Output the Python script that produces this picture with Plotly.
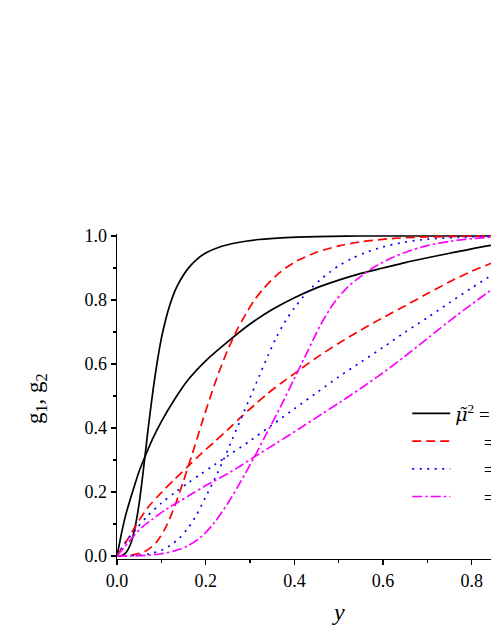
import plotly.graph_objects as go

# ---- data ----
black_g1_x = [0, 0.01, 0.02, 0.03, 0.04, 0.05, 0.06, 0.07, 0.08, 0.09, 0.10, 0.11, 0.12, 0.13, 0.14, 0.16, 0.18, 0.20, 0.23, 0.27, 0.32, 0.38, 0.45, 0.55, 0.85]
black_g1_y = [0, 0.001, 0.01, 0.035, 0.085, 0.165, 0.275, 0.395, 0.505, 0.60, 0.68, 0.74, 0.788, 0.826, 0.855, 0.898, 0.927, 0.947, 0.965, 0.979, 0.989, 0.995, 0.998, 1.0, 1.0]

black_g2_x = [0, 0.005, 0.01, 0.02, 0.035, 0.05, 0.06, 0.08, 0.10, 0.13, 0.16, 0.20, 0.25, 0.30, 0.35, 0.40, 0.45, 0.50, 0.55, 0.60, 0.65, 0.70, 0.75, 0.80, 0.85]
black_g2_y = [0, 0.035, 0.07, 0.13, 0.20, 0.265, 0.30, 0.365, 0.42, 0.49, 0.55, 0.61, 0.67, 0.725, 0.77, 0.807, 0.838, 0.862, 0.883, 0.90, 0.917, 0.932, 0.946, 0.96, 0.972]

red_g1_x = [0, 0.03, 0.05, 0.07, 0.09, 0.11, 0.13, 0.15, 0.17, 0.19, 0.21, 0.23, 0.25, 0.27, 0.29, 0.31, 0.33, 0.36, 0.40, 0.45, 0.50, 0.55, 0.62, 0.70, 0.85]
red_g1_y = [0, 0.002, 0.008, 0.02, 0.045, 0.09, 0.155, 0.235, 0.32, 0.41, 0.495, 0.575, 0.645, 0.705, 0.755, 0.80, 0.835, 0.878, 0.918, 0.949, 0.969, 0.982, 0.992, 0.997, 1.0]

red_g2_x = [0, 0.005, 0.02, 0.04, 0.07, 0.10, 0.13, 0.16, 0.19, 0.22, 0.25, 0.28, 0.31, 0.34, 0.37, 0.40, 0.45, 0.50, 0.55, 0.60, 0.65, 0.70, 0.75, 0.80, 0.85]
red_g2_y = [0, 0.012, 0.043, 0.09, 0.152, 0.198, 0.24, 0.28, 0.32, 0.357, 0.395, 0.435, 0.472, 0.508, 0.54, 0.57, 0.62, 0.665, 0.706, 0.745, 0.782, 0.82, 0.857, 0.89, 0.918]

blue_g1_x = [0, 0.04, 0.07, 0.10, 0.12, 0.14, 0.16, 0.18, 0.20, 0.22, 0.24, 0.26, 0.28, 0.30, 0.32, 0.34, 0.36, 0.38, 0.40, 0.42, 0.44, 0.46, 0.48, 0.50, 0.53, 0.56, 0.60, 0.65, 0.70, 0.77, 0.85]
blue_g1_y = [0, 0.002, 0.006, 0.018, 0.033, 0.055, 0.087, 0.13, 0.185, 0.24, 0.30, 0.365, 0.43, 0.495, 0.56, 0.625, 0.685, 0.735, 0.775, 0.81, 0.84, 0.865, 0.887, 0.907, 0.93, 0.948, 0.966, 0.981, 0.99, 0.996, 0.999]

blue_g2_x = [0, 0.02, 0.045, 0.07, 0.10, 0.13, 0.16, 0.19, 0.22, 0.25, 0.30, 0.35, 0.40, 0.45, 0.50, 0.55, 0.60, 0.65, 0.70, 0.75, 0.80, 0.85]
blue_g2_y = [0, 0.045, 0.087, 0.127, 0.165, 0.198, 0.228, 0.257, 0.285, 0.313, 0.36, 0.41, 0.46, 0.51, 0.56, 0.606, 0.652, 0.70, 0.745, 0.792, 0.838, 0.882]

magenta_g1_x = [0, 0.05, 0.10, 0.13, 0.16, 0.19, 0.22, 0.25, 0.28, 0.31, 0.34, 0.37, 0.40, 0.43, 0.46, 0.49, 0.52, 0.55, 0.58, 0.62, 0.66, 0.70, 0.75, 0.80, 0.85]
magenta_g1_y = [0, 0.001, 0.007, 0.016, 0.032, 0.06, 0.105, 0.165, 0.235, 0.31, 0.39, 0.47, 0.555, 0.64, 0.725, 0.792, 0.84, 0.874, 0.903, 0.932, 0.954, 0.97, 0.983, 0.992, 0.997]

magenta_g2_x = [0, 0.03, 0.055, 0.08, 0.11, 0.14, 0.17, 0.20, 0.24, 0.28, 0.31, 0.36, 0.41, 0.46, 0.50, 0.55, 0.60, 0.65, 0.70, 0.75, 0.80, 0.85]
magenta_g2_y = [0, 0.05, 0.088, 0.115, 0.145, 0.17, 0.195, 0.22, 0.25, 0.283, 0.31, 0.353, 0.397, 0.442, 0.478, 0.524, 0.573, 0.625, 0.68, 0.735, 0.787, 0.838]

legend_labels = [
    '<span style="font-family:DejaVu Serif;font-size:19px"><i>\u03bc\u0303</i></span><sup>2</sup> =',
    "\u00a0\u00a0\u00a0\u00a0\u00a0\u00a0=",
    "\u00a0\u00a0\u00a0\u00a0\u00a0\u00a0=",
    "\u00a0\u00a0\u00a0\u00a0\u00a0\u00a0=",
]
x_ticks = [0.0, 0.2, 0.4, 0.6, 0.8]
y_ticks = [0.0, 0.2, 0.4, 0.6, 0.8, 1.0]

series = [
    ("black", None, black_g1_x, black_g1_y, black_g2_x, black_g2_y),
    ("#FF0000", "9px,5px", red_g1_x, red_g1_y, red_g2_x, red_g2_y),
    ("#0000FF", "2px,5.5px", blue_g1_x, blue_g1_y, blue_g2_x, blue_g2_y),
    ("#FF00FF", "10px,3px,2.5px,3px", magenta_g1_x, magenta_g1_y, magenta_g2_x, magenta_g2_y),
]

fig = go.Figure()
for i, (col, dash, x1, y1, x2, y2) in enumerate(series):
    line = dict(color=col, width=1.7, shape="spline", smoothing=0.8)
    if dash:
        line["dash"] = dash
    fig.add_trace(go.Scatter(x=x1, y=y1, mode="lines", line=line,
                             name=legend_labels[i], legendgroup=str(i), showlegend=True))
    fig.add_trace(go.Scatter(x=x2, y=y2, mode="lines", line=line,
                             name=legend_labels[i], legendgroup=str(i), showlegend=False))

serif = "Liberation Serif"
axis_common = dict(
    showline=True, linecolor="black", linewidth=1.3,
    ticks="outside", ticklen=5, tickwidth=1.3, tickcolor="black",
    showgrid=False, zeroline=False,
    tickfont=dict(family=serif, size=18, color="black"),
    tickformat=".1f",
)

fig.update_layout(
    width=491, height=635,
    margin=dict(l=117, r=0, t=234, b=76, autoexpand=False),
    paper_bgcolor="white", plot_bgcolor="white",
    font=dict(family=serif, color="black"),
    xaxis=dict(range=[0, 0.8433], tickvals=x_ticks,
               minor=dict(dtick=0.1, tick0=0, ticks="outside", ticklen=3, tickwidth=1.3, tickcolor="black"),
               **axis_common),
    yaxis=dict(range=[-0.0094, 1.00625], tickvals=y_ticks,
               minor=dict(dtick=0.1, tick0=0, ticks="outside", ticklen=3, tickwidth=1.3, tickcolor="black"),
               **axis_common),
    legend=dict(x=0.776, y=0.506, xanchor="left", yanchor="top",
                bgcolor="rgba(0,0,0,0)", borderwidth=0,
                font=dict(family=serif, size=19, color="black"),
                itemwidth=38, tracegroupgap=0),
    showlegend=True,
    annotations=[
        dict(text="<i>y</i>", xref="paper", yref="paper", x=0.591, y=-0.163,
             xanchor="center", yanchor="middle", showarrow=False,
             font=dict(family=serif, size=24, color="black")),
        dict(text="g<sub>1</sub>, g<sub>2</sub>", xref="paper", yref="paper",
             x=-0.216, y=0.493, xanchor="center", yanchor="middle", textangle=-90,
             showarrow=False, font=dict(family=serif, size=23, color="black")),
    ],
)

fig.write_html(
    "out.html",
    config={"displayModeBar": False, "staticPlot": True},
    post_script="document.body.style.margin='0';document.documentElement.style.overflow='hidden';document.body.style.overflow='hidden';",
)
